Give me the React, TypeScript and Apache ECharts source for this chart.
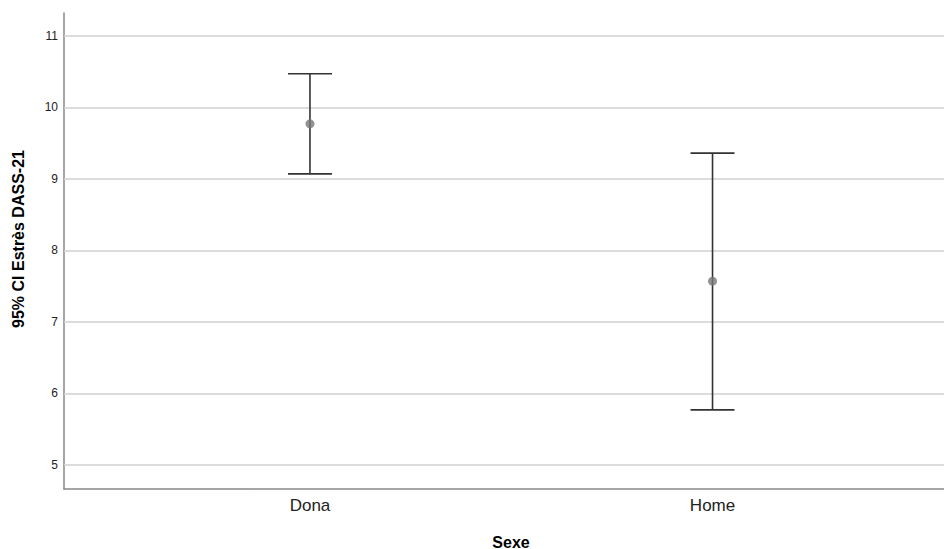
import React, { useEffect, useRef } from "react";
import * as echarts from "echarts";

const categories = ["Dona", "Home"];
const means = [9.77, 7.57];
const lowerCI = [9.07, 5.77];
const upperCI = [10.47, 9.36];
const yTicks = [5, 6, 7, 8, 9, 10, 11];

export default function App() {
  const ref = useRef<HTMLDivElement>(null);
  useEffect(() => {
    document.body.style.margin = "0";
    const chart = echarts.init(ref.current!, null, { renderer: "svg" });
    const positions = categories.map((_, i) => i + 1);
    const option: any = {
      animation: false,
      backgroundColor: "#ffffff",
      textStyle: { fontFamily: "Liberation Sans, Arial, sans-serif" },
      grid: { left: 64, right: 0, top: 13, bottom: 60, containLabel: false, outerBoundsMode: "none" },
      xAxis: {
        type: "value",
        min: 0.389,
        max: 2.575,
        name: "Sexe",
        nameLocation: "middle",
        nameGap: 45,
        nameTextStyle: { fontSize: 16, fontWeight: "bold", color: "#000", padding: [0, 0, 0, 14] },
        axisLine: { show: true, lineStyle: { color: "#888", width: 1.5 } },
        axisTick: { show: false },
        splitLine: { show: false },
        axisLabel: {
          customValues: positions,
          formatter: (v: number) => categories[Math.round(v) - 1] ?? "",
          fontSize: 17,
          color: "#222",
          margin: 8,
        },
      },
      yAxis: {
        type: "value",
        min: 4.664,
        max: 11.32,
        name: "95% CI Estrès DASS-21",
        nameLocation: "middle",
        nameGap: 38,
        nameTextStyle: { fontSize: 16, fontWeight: "bold", color: "#000", padding: [0, 0, 0, 24] },
        axisLine: { show: true, lineStyle: { color: "#888", width: 1.5 } },
        axisTick: { show: false, customValues: yTicks },
        axisLabel: {
          customValues: yTicks,
          fontSize: 12,
          color: "#222",
          margin: 6,
        },
        splitLine: { show: false },
      },
      series: [
        {
          type: "custom",
          data: positions.map((p, i) => [p, lowerCI[i], upperCI[i]]),
          renderItem: (params: any, api: any) => {
            const x = api.value(0);
            const lo = api.coord([x, api.value(1)]);
            const hi = api.coord([x, api.value(2)]);
            const hw = 22;
            const style = { stroke: "#333", lineWidth: 1.6 };
            return {
              type: "group",
              children: [
                { type: "line", shape: { x1: lo[0], y1: lo[1], x2: hi[0], y2: hi[1] }, style },
                { type: "line", shape: { x1: hi[0] - hw, y1: hi[1], x2: hi[0] + hw, y2: hi[1] }, style },
                { type: "line", shape: { x1: lo[0] - hw, y1: lo[1], x2: lo[0] + hw, y2: lo[1] }, style },
              ],
            };
          },
          z: 2,
        },
        {
          type: "scatter",
          data: positions.map((p, i) => [p, means[i]]),
          symbol: "circle",
          symbolSize: 9,
          itemStyle: { color: "#777" },
          z: 3,
          markLine: {
            silent: true,
            symbol: ["none", "none"],
            label: { show: false },
            lineStyle: { color: "#d0d0d0", width: 1.5, type: "solid" },
            data: yTicks.map((v) => ({ yAxis: v })),
            z: 1,
          },
        },
      ],
    };
    chart.setOption(option);
    return () => chart.dispose();
  }, []);
  return <div ref={ref} style={{ width: 944, height: 549 }} />;
}
